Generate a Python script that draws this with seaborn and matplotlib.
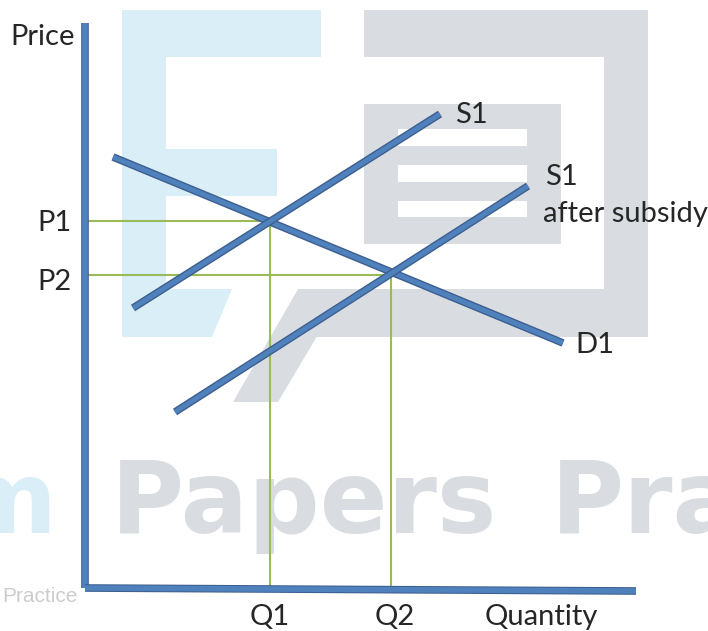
import pandas as pd
import matplotlib.pyplot as plt
import matplotlib.patheffects as pe
import seaborn as sns

sns.set_theme(style="white")
plt.rcParams["font.family"] = ["Lato", "DejaVu Sans"]

# curve end points (quantity, price)
curve_names = ["D1", "S1", "S1 after subsidy"]
curve_q = [[2.8, 47.8], [4.8, 35.5], [9.0, 44.3]]
curve_p = [[43.1, 24.5], [28.0, 47.4], [17.6, 40.2]]

# equilibrium points
eq_labels = [("P1", "Q1"), ("P2", "Q2")]
eq_q = [18.5, 30.6]
eq_p = [36.7, 31.3]

axis_q_max = 55.1
axis_p_max = 56.5

rows = []
for name, qs, ps in zip(curve_names, curve_q, curve_p):
    for q, p in zip(qs, ps):
        rows.append({"curve": name, "quantity": q, "price": p})
df = pd.DataFrame(rows)

fig = plt.figure(figsize=(7.08, 6.31), dpi=100)
ax = fig.add_axes([0, 0, 1, 1])
ax.set_xlim(-8.5, 62.3)
ax.set_ylim(-4.3, 58.8)
ax.axis("off")


def px(x, y):
    return ((x - 85) / 10, (588 - y) / 10)


# watermark in the background
light_blue = "#d9eef6"
light_gray = "#d9dde1"
wm_blue = [(122, 10), (321, 10), (321, 57), (166, 57), (166, 149), (277, 149),
           (277, 196), (166, 196), (166, 289), (232, 289), (212, 337), (122, 337)]
ax.fill(*zip(*[px(*v) for v in wm_blue]), color=light_blue, lw=0, zorder=0)
for x0, y0, x1, y1 in [(364, 10, 648, 57), (604, 10, 648, 337), (298, 289, 648, 337),
                       (364, 104, 561, 244)]:
    verts = [px(x0, y0), px(x1, y0), px(x1, y1), px(x0, y1)]
    ax.fill(*zip(*verts), color=light_gray, lw=0, zorder=0)
for y0, y1 in [(129, 146), (165, 182), (201, 217)]:
    verts = [px(398, y0), px(527, y0), px(527, y1), px(398, y1)]
    ax.fill(*zip(*verts), color="white", lw=0, zorder=0.1)
slant = [(298, 289), (345, 289), (278, 402), (233, 402)]
ax.fill(*zip(*[px(*v) for v in slant]), color=light_gray, lw=0, zorder=0)

wm_font = dict(fontsize=72, fontweight="bold", family="DejaVu Sans",
               va="baseline", zorder=0.2)
ax.text(*px(57, 533), "m", color=light_blue, ha="right", **wm_font)
ax.text(*px(111, 533), "Papers", color=light_gray, ha="left", **wm_font)
ax.text(*px(551, 533), "Pra", color=light_gray, ha="left", **wm_font)
ax.text(*px(78, 597), "Practice", color="#cccccc", fontsize=15,
        family="Liberation Sans", ha="right", va="center", zorder=0.2)

# guide lines
guide = "#9bbb59"
for q, p in zip(eq_q, eq_p):
    ax.plot([0, q], [p, p], color=guide, lw=1.5, zorder=1)
    ax.plot([q, q], [0, p], color=guide, lw=1.5, zorder=1)

# curves
line_fx = [pe.Stroke(linewidth=5.5, foreground="#3d5f8f"), pe.Normal()]
sns.lineplot(data=df, x="quantity", y="price", hue="curve", units="curve",
             estimator=None, sort=False, legend=False,
             palette=["#4f81bd"] * 3, linewidth=3.5, ax=ax, zorder=3)
for line in ax.lines[-3:]:
    line.set_path_effects(line_fx)
    line.set_solid_capstyle("butt")

# axes
ax.plot([0, 0], [0, axis_p_max], color="#4f81bd", lw=4, zorder=4,
        solid_capstyle="butt", path_effects=line_fx)
ax.plot([0, axis_q_max], [0, -0.3], color="#4f81bd", lw=4, zorder=4,
        solid_capstyle="butt", path_effects=line_fx)

fs = 21
ax.text(*px(10, 37), "Price", fontsize=fs, ha="left", va="center")
ax.text(*px(72, 223), eq_labels[0][0], fontsize=fs, ha="right", va="center")
ax.text(*px(72, 282), eq_labels[1][0], fontsize=fs, ha="right", va="center")
ax.text(*px(270, 617), eq_labels[0][1], fontsize=fs, ha="center", va="center")
ax.text(*px(395, 617), eq_labels[1][1], fontsize=fs, ha="center", va="center")
ax.text(*px(485, 617), "Quantity", fontsize=fs, ha="left", va="center")
ax.text(*px(455, 115), "S1", fontsize=fs, ha="left", va="center")
ax.text(*px(545, 177), "S1", fontsize=fs, ha="left", va="center")
ax.text(*px(543, 214), "after subsidy", fontsize=fs, ha="left", va="center")
ax.text(*px(575, 345), "D1", fontsize=fs, ha="left", va="center")

fig.savefig("out.png", dpi=100)
